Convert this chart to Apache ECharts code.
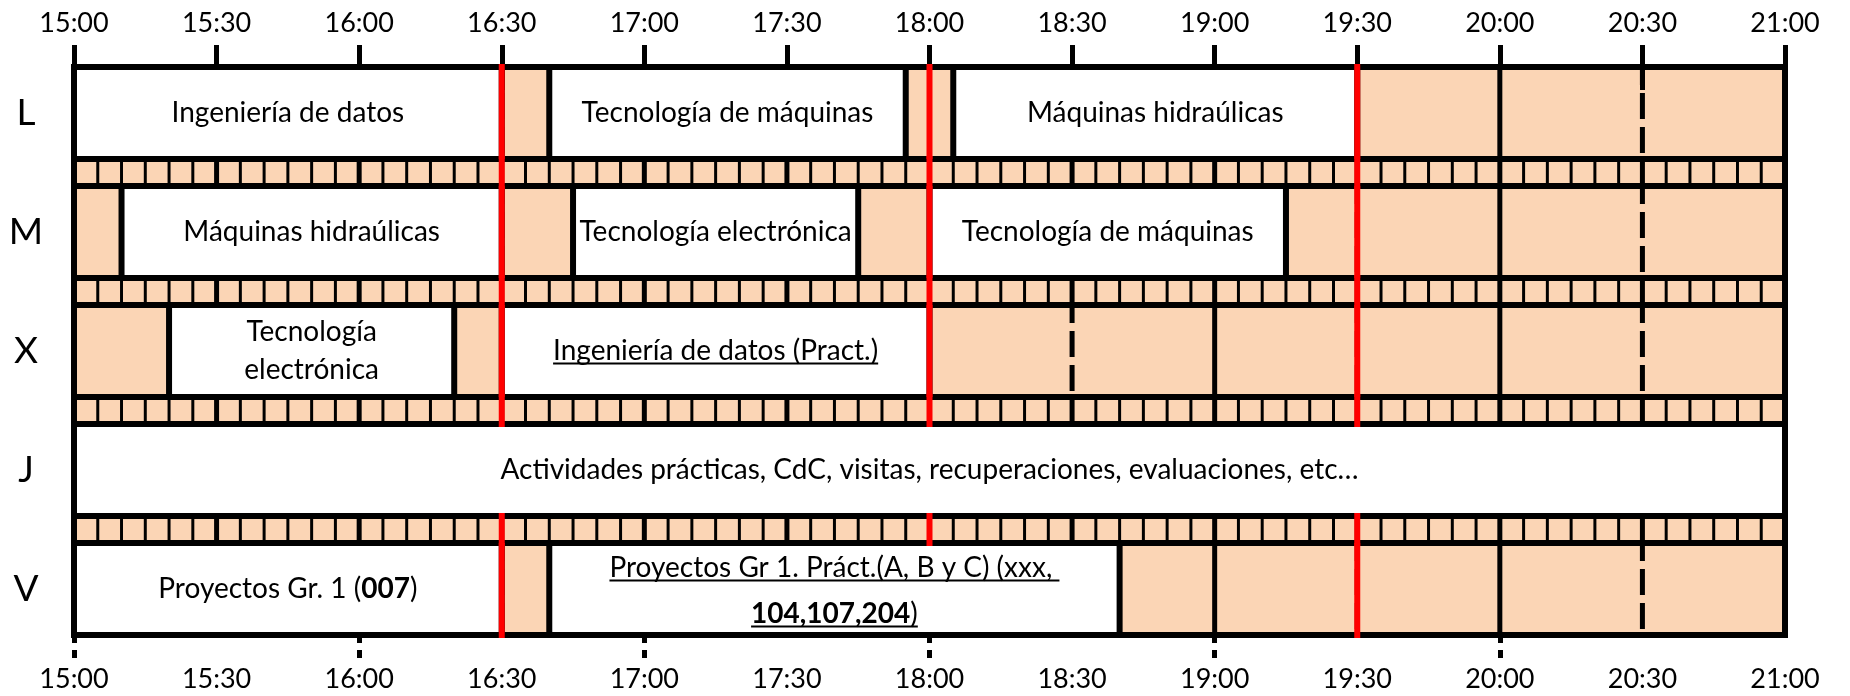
<!DOCTYPE html>
<html><head><meta charset="utf-8">
<script src="https://cdn.jsdelivr.net/npm/echarts@6/dist/echarts.min.js"></script>
<style>html,body{margin:0;padding:0;background:#fff}#c{width:1850px;height:696px}</style>
</head><body><div id="c"></div>
<script>
// ---------------- data ----------------
const days = ['L', 'M', 'X', 'J', 'V'];
const tickLabels = ['15:00','15:30','16:00','16:30','17:00','17:30','18:00','18:30','19:00','19:30','20:00','20:30','21:00'];
const breakLines = ['16:30', '18:00', '19:30'];
const sessionDay = [0, 0, 0, 1, 1, 1, 2, 2, 3, 4, 4];
const sessionStart = ['15:00','16:40','18:05','15:10','16:45','18:00','15:20','16:30','15:00','15:00','16:40'];
const sessionEnd   = ['16:30','17:55','19:30','16:30','17:45','19:15','16:20','18:00','21:00','16:30','18:40'];
const sessionText = [
  'Ingeniería de datos',
  'Tecnología de máquinas',
  'Máquinas hidraúlicas',
  'Máquinas hidraúlicas',
  'Tecnología electrónica',
  'Tecnología de máquinas',
  'Tecnología\nelectrónica',
  'Ingeniería de datos (Pract.)',
  'Actividades prácticas, CdC, visitas, recuperaciones, evaluaciones, etc…',
  'Proyectos Gr. 1 ({b|007})',
  'Proyectos Gr 1. Práct.(A, B y C) (xxx, \n{b|104,107,204})'
];
const sessionUnderlined = [false, false, false, false, false, false, false, true, false, false, true];

// ---------------- layout / style ----------------
const ROW_H = 92, GAP_H = 27, PERIOD = ROW_H + GAP_H, TOTAL = 5 * ROW_H + 4 * GAP_H;
const BORDER = 6, THIN = 3, RED_W = 6;
const PEACH = '#FBD5B5';
const FONT = 'Lato';
const FS = 28;
const toMin = s => { const [h, m] = s.split(':').map(Number); return h * 60 + m; };
const tickMins = tickLabels.map(toMin);
const T0 = tickMins[0], T1 = tickMins[tickMins.length - 1];
const rowTop = d => d * PERIOD;
const fmt = v => { const i = tickMins.indexOf(Math.round(v)); return i >= 0 ? tickLabels[i] : ''; };

const mctx = document.createElement('canvas').getContext('2d');
function measure(line) {
  let w = 0;
  const re = /\{b\|([^}]*)\}|([^{]+)/g; let m;
  while ((m = re.exec(line))) {
    if (m[1] !== undefined) { mctx.font = 'bold ' + FS + 'px ' + FONT; w += mctx.measureText(m[1]).width; }
    else { mctx.font = FS + 'px ' + FONT; w += mctx.measureText(m[2]).width; }
  }
  return w;
}

const chart = echarts.init(document.getElementById('c'), null, { renderer: 'canvas' });

const gridData = [];
days.forEach((d, di) => tickMins.slice(1, -1).forEach(t => gridData.push([t, rowTop(di), t % 60 === 0 ? 1 : 0])));
const rowData = days.map((d, di) => [T0, rowTop(di)]);
const stripeData = [0, 1, 2, 3].map(i => [T0, rowTop(i) + ROW_H]);
const cellData = sessionStart.map((s, i) => [toMin(s), toMin(sessionEnd[i]), rowTop(sessionDay[i]), sessionDay[i]]);
const redData = breakLines.map(b => [toMin(b), 0]);

const axisLabelStyle = { color: '#000', fontFamily: FONT, fontSize: 27 };

const option = {
  animation: false,
  backgroundColor: '#fff',
  grid: { left: 74, right: 65, top: 67, bottom: 61, show: true, backgroundColor: PEACH, borderWidth: 0 },
  xAxis: [
    { type: 'value', position: 'top', min: T0, max: T1, interval: 30,
      axisLine: { show: true, lineStyle: { color: '#000', width: BORDER } },
      axisTick: { show: true, length: 22, lineStyle: { color: '#000', width: 5 } },
      axisLabel: Object.assign({ formatter: fmt, margin: 30 }, axisLabelStyle),
      splitLine: { show: false } },
    { type: 'value', position: 'bottom', min: T0, max: T1, interval: 30,
      axisLine: { show: true, lineStyle: { color: '#000', width: BORDER } },
      axisTick: { show: true, length: 23, customValues: tickMins.filter((t, i) => t % 60 !== 0 || i === tickMins.length - 1), lineStyle: { color: '#000', width: 5 } },
      axisLabel: Object.assign({ formatter: fmt, margin: 31 }, axisLabelStyle),
      splitLine: { show: false } },
    { type: 'value', position: 'bottom', min: T0, max: T1, interval: 30,
      axisLine: { show: false },
      axisTick: { show: true, length: 23, customValues: tickMins.filter((t, i) => t % 60 === 0 && i !== tickMins.length - 1), lineStyle: { color: '#000', width: 5, type: [8, 7] } },
      axisLabel: { show: false },
      splitLine: { show: false } }
  ],
  yAxis: [
    { type: 'value', min: 0, max: TOTAL, inverse: true, position: 'left',
      axisLine: { show: true, lineStyle: { color: '#000', width: BORDER } },
      axisTick: { show: false }, splitLine: { show: false },
      axisLabel: { customValues: days.map((d, i) => rowTop(i) + ROW_H / 2),
        formatter: v => days[Math.round((v - ROW_H / 2) / PERIOD)] || '',
        color: '#000', fontFamily: FONT, fontSize: 37, align: 'center', margin: 48 } },
    { type: 'value', min: 0, max: TOTAL, inverse: true, position: 'right',
      axisLine: { show: true, lineStyle: { color: '#000', width: BORDER } },
      axisTick: { show: false }, splitLine: { show: false }, axisLabel: { show: false } }
  ],
  series: [
    { // vertical gridlines in each day row
      type: 'custom', z: 2, data: gridData, encode: { x: 0, y: 1 },
      renderItem(params, api) {
        const a = api.coord([api.value(0), api.value(1)]);
        const b = api.coord([api.value(0), api.value(1) + ROW_H]);
        const hour = api.value(2) === 1;
        return { type: 'line', shape: { x1: a[0], y1: a[1], x2: b[0], y2: b[1] },
          style: { stroke: '#000', lineWidth: 5, lineDash: hour ? null : [26, 8], lineDashOffset: hour ? 0 : 8 } };
      } },
    { // stripes between rows: 5-minute dividers
      type: 'custom', z: 3, data: stripeData, encode: { x: 0, y: 1 },
      renderItem(params, api) {
        const y0 = api.value(1);
        const ch = [];
        for (let t = T0 + 5; t < T1; t += 5) {
          const a = api.coord([t, y0]), b = api.coord([t, y0 + GAP_H]);
          ch.push({ type: 'line', shape: { x1: a[0], y1: a[1], x2: b[0], y2: b[1] },
            style: { stroke: '#000', lineWidth: t % 30 === 0 ? 5 : THIN } });
        }
        return { type: 'group', children: ch };
      } },
    { // horizontal border lines of each row
      type: 'custom', z: 3, data: rowData, encode: { x: 0, y: 1 },
      renderItem(params, api) {
        const y0 = api.value(1);
        const a = api.coord([T0, y0]), b = api.coord([T1, y0]);
        const c = api.coord([T0, y0 + ROW_H]), d = api.coord([T1, y0 + ROW_H]);
        return { type: 'group', children: [
          { type: 'line', shape: { x1: a[0] - 3, y1: a[1], x2: b[0] + 3, y2: b[1] }, style: { stroke: '#000', lineWidth: BORDER } },
          { type: 'line', shape: { x1: c[0] - 3, y1: c[1], x2: d[0] + 3, y2: d[1] }, style: { stroke: '#000', lineWidth: BORDER } }
        ] };
      } },
    { // class cells
      type: 'custom', z: 4, data: cellData, encode: { x: [0, 1], y: 2 },
      renderItem(params, api) {
        const i = params.dataIndex;
        const p0 = api.coord([api.value(0), api.value(2)]);
        const p1 = api.coord([api.value(1), api.value(2) + ROW_H]);
        const cx = (p0[0] + p1[0]) / 2, cy = (p0[1] + p1[1]) / 2;
        const lines = sessionText[i].split('\n');
        const lh = lines.length > 1 ? (sessionUnderlined[i] ? 46 : 38) : 34;
        const ty = lines.length > 1 && sessionUnderlined[i] ? cy + 2 : cy;
        const ch = [
          { type: 'rect', shape: { x: p0[0], y: p0[1], width: p1[0] - p0[0], height: p1[1] - p0[1] },
            style: { fill: '#fff', stroke: '#000', lineWidth: BORDER } },
          { type: 'text', style: { text: sessionText[i], x: cx, y: ty, align: 'center', verticalAlign: 'middle',
            fill: '#000', fontFamily: FONT, fontSize: FS, lineHeight: lh,
            rich: { b: { fontWeight: 'bold', fontFamily: FONT, fontSize: FS, lineHeight: lh, fill: '#000' } } } }
        ];
        if (sessionUnderlined[i]) {
          lines.forEach((ln, k) => {
            const w = measure(ln);
            const ly = ty + (k - (lines.length - 1) / 2) * lh + FS * 0.45;
            ch.push({ type: 'line', shape: { x1: cx - w / 2, y1: ly, x2: cx + w / 2, y2: ly }, style: { stroke: '#000', lineWidth: 2 } });
          });
        }
        return { type: 'group', children: ch };
      } },
    { // red break lines
      type: 'custom', z: 5, data: redData, encode: { x: 0, y: 1 },
      renderItem(params, api) {
        const t = api.value(0);
        const ch = [];
        const seg = (ya, yb, ea, eb) => {
          const a = api.coord([t, ya]), b = api.coord([t, yb]);
          ch.push({ type: 'line', shape: { x1: a[0], y1: a[1] - ea, x2: b[0], y2: b[1] + eb }, style: { stroke: '#FF0000', lineWidth: RED_W } });
        };
        days.forEach((d, di) => {
          const covered = cellData.some(c => c[3] === di && c[0] < t && c[1] > t);
          if (!covered) seg(rowTop(di), rowTop(di) + ROW_H, di === 0 ? 3 : 0, di === days.length - 1 ? 3 : 0);
          if (di < days.length - 1) seg(rowTop(di) + ROW_H, rowTop(di + 1), 3, 3);
        });
        return { type: 'group', children: ch };
      } }
  ]
};
chart.setOption(option);
</script>
</body></html>
